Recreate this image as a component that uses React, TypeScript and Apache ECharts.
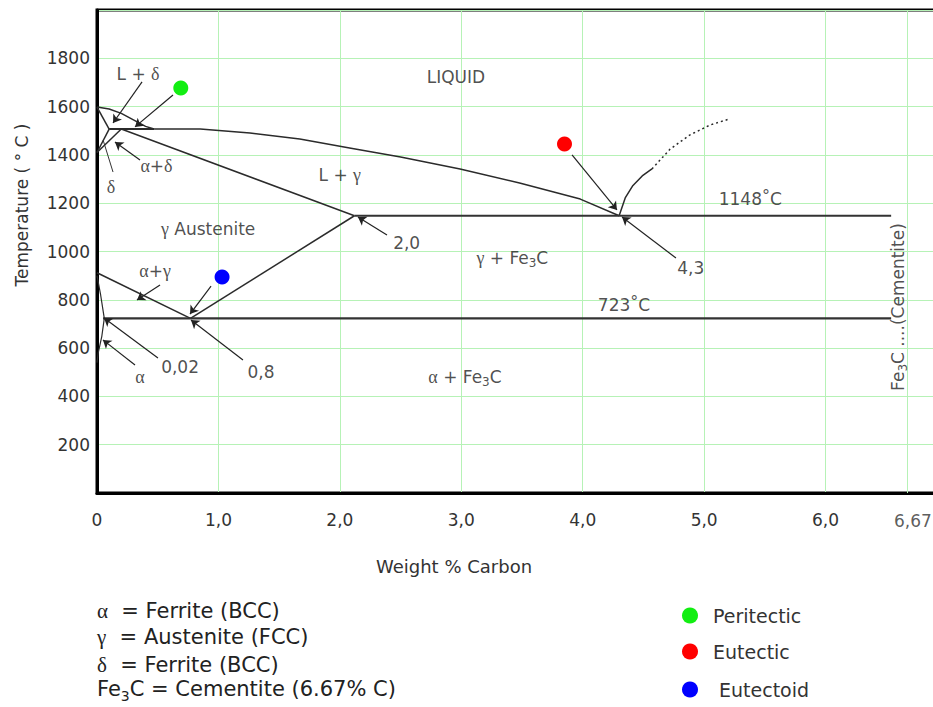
import React, { useEffect, useRef } from "react";
import * as echarts from "echarts";

// ---------- axes ----------
const xMin = 0;
const xMax = 7;
const xStep = 1;
const yMin = 0;
const yMax = 2000;
const yStep = 200;
const cementiteX = 6.67;
const cementiteTick = "6,67";

// ---------- phase boundaries [wt% C, °C] ----------
const liquidusDelta = [[0, 1598], [0.1, 1590], [0.2, 1572], [0.3, 1545], [0.4, 1518], [0.47, 1507]];
const liquidusGamma = [[0.47, 1507], [0.85, 1507], [1.26, 1491], [1.67, 1466], [2.08, 1429], [2.5, 1391], [2.99, 1342], [3.48, 1284], [3.98, 1217], [4.3, 1148]];
const liquidusCementite = [[4.3, 1148], [4.35, 1222], [4.41, 1271], [4.49, 1313], [4.57, 1342]];
const liquidusCementiteDotted = [[4.57, 1342], [4.72, 1424], [4.88, 1482], [5.05, 1524], [5.21, 1549]];
const deltaSolidus = [[0, 1598], [0.1, 1507]];
const deltaSolvus = [[0.1, 1507], [0, 1410]];
const gammaDeltaBoundary = [[0, 1410], [0.2, 1507]];
const peritecticLine = [[0.1, 1507], [0.47, 1507]];
const gammaSolidus = [[0.2, 1507], [2.12, 1148]];
const eutecticLine = [[2.12, 1148], [6.54, 1148]];
const acmLine = [[0.77, 723], [2.12, 1148]];
const a3Line = [[0, 912], [0.77, 723]];
const eutectoidLine = [[0.05, 723], [6.54, 723]];
const alphaBoundary = [[0, 900], [0.03, 820], [0.06, 723], [0.04, 650], [0.01, 580], [0, 540]];

// ---------- special points ----------
const dotNames = ["Peritectic", "Eutectic", "Eutectoid"];
const dotColors = ["#12ee12", "#ff0000", "#0000ff"];
const dotPoints = [[0.69, 1677], [3.85, 1445], [1.03, 894]];

// ---------- pointer arrows (from -> to) ----------
const pointerFrom = [[0.371, 1702], [0.626, 1648], [0.354, 1379], [3.912, 1400], [4.768, 973], [2.388, 1068], [0.939, 857], [0.519, 861], [1.202, 551], [0.502, 559], [0.313, 530]];
const pointerTo = [[0.132, 1532], [0.313, 1516], [0.148, 1453], [4.282, 1172], [4.324, 1143], [2.149, 1143], [0.766, 741], [0.329, 799], [0.774, 716], [0.058, 725], [0.049, 634]];
const deltaPointer = [[0.132, 1329], [0.05, 1462]];

// ---------- region / value labels ----------
const labelTexts = ["L + δ", "α+δ", "δ", "γ Austenite", "LIQUID", "L + γ", "2,0", "γ + Fe3C", "1148°C", "4,3", "α+γ", "723°C", "0,02", "0,8", "α", "α + Fe3C", "Fe3C ....(Cementite)"];
const labelX = [0.338, 0.49, 0.115, 0.915, 2.956, 2.0, 2.55, 3.42, 5.38, 4.89, 0.478, 4.34, 0.684, 1.35, 0.354, 3.03, 6.6];
const labelY = [1735, 1354, 1267, 1093, 1723, 1317, 1035, 973, 1217, 932, 919, 778, 522, 501, 480, 480, 770];

// ---------- key ----------
const keySymbols = ["α", "γ", "δ", "Fe3C"];
const keyMeanings = ["  = Ferrite (BCC)", "  = Austenite (FCC)", "  = Ferrite (BCC)", " = Cementite (6.67% C)"];

const FONT = "DejaVu Sans";
const SERIF = "Liberation Serif";
const TEXT = "#222";
const GRID = "#b6f2b6";

function toRich(t: string): string {
  let out = "";
  let buf = "";
  const flush = () => {
    if (buf) {
      out += `{n|${buf}}`;
      buf = "";
    }
  };
  for (let i = 0; i < t.length; i++) {
    const c = t[i];
    if ("αγδ".includes(c)) {
      flush();
      out += `{g|${c}}`;
    } else if (c === "°") {
      flush();
      out += `{u|°}`;
    } else if (c === "3" && t.slice(i - 2, i) === "Fe") {
      flush();
      out += `{s|3}`;
    } else buf += c;
  }
  flush();
  return out;
}

function buildOption() {
  const boundary = (data: number[][], extra: any = {}) => ({
    type: "line",
    data,
    symbol: "none",
    silent: true,
    z: 3,
    lineStyle: { color: "#2b2b2b", width: 1.5, ...extra },
  });

  const labelRich = {
    n: { fontFamily: FONT, fontSize: 17, color: TEXT, lineHeight: 22 },
    g: { fontFamily: SERIF, fontSize: 18, color: TEXT, lineHeight: 22 },
    s: { fontFamily: FONT, fontSize: 12, color: TEXT, lineHeight: 22, padding: [10, 0, 0, 0] },
    u: { fontFamily: FONT, fontSize: 16, color: TEXT, lineHeight: 22, padding: [0, 0, 8, 0] },
  };

  const keyRich = {
    n: { font: `21px "${FONT}"`, fill: TEXT, lineHeight: 26 },
    g: { font: `21px "${SERIF}"`, fill: TEXT, lineHeight: 26 },
    s: { font: `14px "${FONT}"`, fill: TEXT, lineHeight: 26, padding: [14, 0, 0, 0] },
  };
  const keyY = [611, 637, 665, 689];
  const legendTops = [606, 642, 680];
  const legendTextPad = [10, 10, 16];

  const series: any[] = [
    boundary(liquidusDelta),
    boundary(liquidusGamma),
    boundary(liquidusCementite),
    boundary(liquidusCementiteDotted, { type: [2, 3] }),
    boundary(deltaSolidus),
    boundary(deltaSolvus),
    boundary(gammaDeltaBoundary),
    boundary(peritecticLine, { width: 2 }),
    boundary(gammaSolidus),
    boundary(eutecticLine, { width: 2.2, color: "#333" }),
    boundary(acmLine),
    boundary(a3Line),
    boundary(eutectoidLine, { width: 2.2, color: "#333" }),
    boundary(alphaBoundary, { width: 1.2 }),
    {
      type: "lines",
      coordinateSystem: "cartesian2d",
      silent: true,
      z: 4,
      symbol: ["none", "arrow"],
      symbolSize: 8,
      lineStyle: { color: "#222", width: 1.2, opacity: 1 },
      data: pointerFrom.map((f, i) => ({ coords: [f, pointerTo[i]] })),
    },
    {
      type: "lines",
      coordinateSystem: "cartesian2d",
      silent: true,
      z: 4,
      symbol: "none",
      lineStyle: { color: "#333", width: 1, opacity: 1 },
      data: [{ coords: deltaPointer }],
    },
    {
      type: "scatter",
      silent: true,
      z: 1,
      symbolSize: 0,
      data: [
        {
          value: [cementiteX, yMin],
          label: {
            show: true,
            formatter: cementiteTick,
            offset: [6, 28],
            fontFamily: FONT,
            fontSize: 17,
            color: "#333",
          },
        },
      ],
      markLine: {
        silent: true,
        symbol: "none",
        label: { show: false },
        lineStyle: { color: GRID, width: 1, type: "solid" },
        data: [{ xAxis: cementiteX }],
      },
    },
    {
      type: "scatter",
      silent: true,
      z: 6,
      symbolSize: 0,
      label: { show: true, position: "inside", rich: labelRich },
      data: labelTexts.map((t, i) => ({
        value: [labelX[i], labelY[i]],
        label: { formatter: toRich(t), rotate: t.indexOf("Cementite") >= 0 ? 90 : 0 },
      })),
    },
    ...dotNames.map((name, i) => ({
      type: "scatter",
      name,
      silent: true,
      z: 7,
      symbol: "circle",
      symbolSize: 15,
      itemStyle: { color: dotColors[i], opacity: 1 },
      data: [dotPoints[i]],
    })),
  ];

  return {
    animation: false,
    textStyle: { fontFamily: FONT },
    grid: {
      left: 97,
      top: 10,
      width: 850,
      height: 483,
      show: true,
      borderColor: "#000",
      borderWidth: 3,
      containLabel: false,
      outerBoundsMode: "none",
    },
    xAxis: {
      type: "value",
      min: xMin,
      max: xMax,
      interval: xStep,
      axisLine: { show: true, lineStyle: { color: "#000", width: 3 } },
      axisTick: { show: false },
      splitLine: { show: true, lineStyle: { color: GRID, width: 1 } },
      axisLabel: {
        margin: 18,
        fontFamily: FONT,
        fontSize: 17,
        color: "#333",
        showMaxLabel: false,
        formatter: (v: number) => (v === 0 ? "0" : v >= xMax ? "" : v.toFixed(1).replace(".", ",")),
      },
    },
    yAxis: {
      type: "value",
      min: yMin,
      max: yMax,
      interval: yStep,
      axisLine: { show: true, lineStyle: { color: "#000", width: 3 } },
      axisTick: { show: false },
      splitLine: { show: true, lineStyle: { color: GRID, width: 1 } },
      axisLabel: {
        margin: 7,
        fontFamily: FONT,
        fontSize: 17,
        color: "#333",
        formatter: (v: number) => (v === yMin || v === yMax ? "" : String(v)),
      },
    },
    legend: dotNames.map((name, i) => ({
      orient: "vertical",
      left: 682,
      top: legendTops[i],
      padding: 0,
      itemWidth: 16,
      itemHeight: 16,
      icon: "circle",
      selectedMode: false,
      data: [name],
      itemStyle: { opacity: 1 },
      textStyle: { fontFamily: FONT, fontSize: 19, color: "#333", padding: [0, 0, 0, legendTextPad[i]] },
    })),
    graphic: [
      {
        type: "text",
        x: 22,
        y: 205,
        rotation: Math.PI / 2,
        style: {
          text: "Temperature ( ° C )",
          font: `17px "${FONT}"`,
          fill: "#333",
          align: "center",
          verticalAlign: "middle",
        },
      },
      {
        type: "text",
        x: 454,
        y: 566,
        style: {
          text: "Weight % Carbon",
          font: `18px "${FONT}"`,
          fill: "#333",
          align: "center",
          verticalAlign: "middle",
        },
      },
      ...keySymbols.map((sym, i) => ({
        type: "text",
        x: 97,
        y: keyY[i],
        style: {
          text: toRich(sym) + `{n|${keyMeanings[i]}}`,
          rich: keyRich,
          align: "left",
          verticalAlign: "middle",
        },
      })),
    ],
    series,
  };
}

export default function App() {
  const ref = useRef<HTMLDivElement>(null);
  useEffect(() => {
    if (!ref.current) return;
    const chart = echarts.init(ref.current, null, { renderer: "svg" });
    chart.setOption(buildOption() as any);
    return () => chart.dispose();
  }, []);
  return (
    <div
      ref={ref}
      style={{ position: "absolute", left: 0, top: 0, width: 933, height: 707, background: "#fff" }}
    />
  );
}
